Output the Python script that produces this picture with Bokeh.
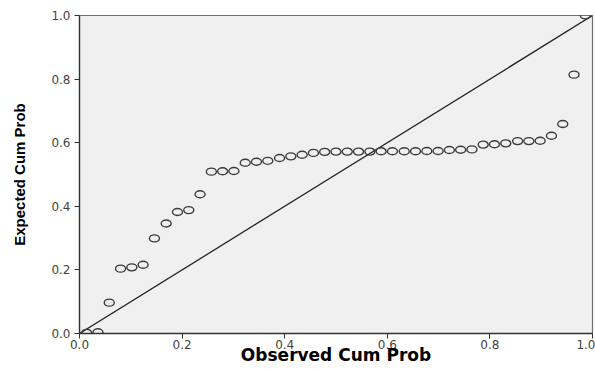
from bokeh.plotting import figure
from bokeh.models import FixedTicker, Range1d
from bokeh.embed import file_html
from bokeh.resources import INLINE

# Observed cumulative probability (x) and expected cumulative probability (y)
observed = [0.014, 0.036, 0.058, 0.080, 0.102, 0.124, 0.146, 0.169, 0.191, 0.213,
            0.235, 0.257, 0.279, 0.301, 0.323, 0.345, 0.367, 0.390, 0.412, 0.434,
            0.456, 0.478, 0.500, 0.522, 0.544, 0.566, 0.588, 0.610, 0.633, 0.655,
            0.677, 0.699, 0.721, 0.743, 0.765, 0.787, 0.809, 0.831, 0.854, 0.876,
            0.898, 0.920, 0.942, 0.964, 0.986]
expected = [0.002, 0.004, 0.097, 0.204, 0.208, 0.216, 0.299, 0.346, 0.382, 0.388,
            0.438, 0.509, 0.510, 0.511, 0.537, 0.540, 0.543, 0.552, 0.557, 0.562,
            0.568, 0.571, 0.572, 0.572, 0.572, 0.572, 0.573, 0.573, 0.573, 0.573,
            0.574, 0.574, 0.577, 0.578, 0.579, 0.594, 0.595, 0.598, 0.605, 0.605,
            0.606, 0.622, 0.659, 0.814, 1.000]

diag_x = [0.0, 1.0]
diag_y = [0.0, 1.0]

tick_values = [0.0, 0.2, 0.4, 0.6, 0.8, 1.0]
tick_labels = ["0.0", "0.2", "0.4", "0.6", "0.8", "1.0"]

p = figure(width=595, height=371, output_backend="svg", toolbar_location=None,
           x_range=Range1d(0, 1), y_range=Range1d(0, 1),
           min_border_left=79, min_border_right=3, min_border_top=15, min_border_bottom=38)

p.background_fill_color = "#f0f0f0"
p.border_fill_color = "white"
p.outline_line_color = "#6e6e6e"
p.outline_line_width = 1.2
p.xgrid.visible = False
p.ygrid.visible = False

for ax in (p.xaxis[0], p.yaxis[0]):
    ax.ticker = FixedTicker(ticks=tick_values)
    ax.major_label_overrides = {v: s for v, s in zip(tick_values, tick_labels)}
    ax.minor_tick_line_color = None
    ax.major_tick_in = 0
    ax.major_tick_out = 5
    ax.major_tick_line_color = "#333333"
    ax.axis_line_color = "#333333"
    ax.axis_line_width = 1.3
    ax.major_label_text_font = "DejaVu Sans"
    ax.major_label_text_font_size = "12px"
    ax.major_label_text_color = "#444444"
    ax.axis_label_text_font_style = "bold"
    ax.axis_label_text_color = "black"

p.xaxis.axis_label = "Observed Cum Prob"
p.xaxis.axis_label_text_font = "DejaVu Sans"
p.xaxis.axis_label_text_font_size = "17px"
p.xaxis.major_label_standoff = 1
p.xaxis.axis_label_standoff = -7

p.yaxis.axis_label = "Expected Cum Prob"
p.yaxis.axis_label_text_font = "Liberation Sans Narrow, Liberation Sans"
p.yaxis.axis_label_text_font_size = "15px"
p.yaxis.major_label_standoff = 4
p.yaxis.axis_label_standoff = 20

p.line(diag_x, diag_y, line_color="#222222", line_width=1.3)
p.ellipse(observed, expected, width=10, height=7, width_units="screen", height_units="screen",
          fill_color=None, line_color="#3a3a3a", line_width=1.4)

open("out.html", "w").write(file_html(p, INLINE))
